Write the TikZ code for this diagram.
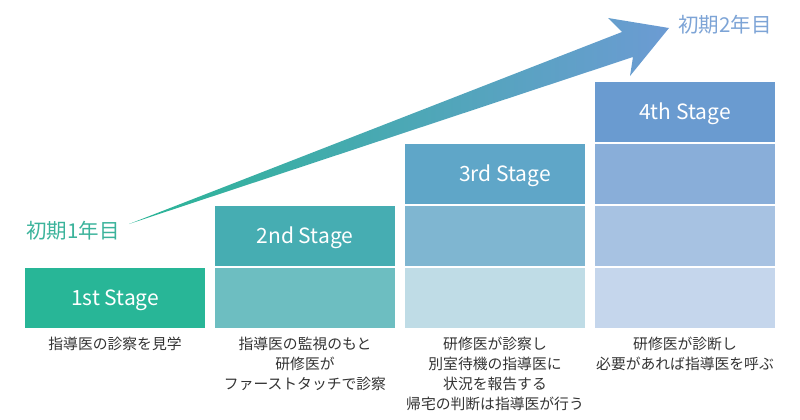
\documentclass[tikz,border=0pt]{standalone}
\usepackage{fontspec}
\setmainfont{Noto Sans CJK JP}
\definecolor{cOne}{HTML}{28B697}
\definecolor{cTwoA}{HTML}{46ADB2}
\definecolor{cTwoB}{HTML}{6DBEC1}
\definecolor{cThrA}{HTML}{5FA6C8}
\definecolor{cThrB}{HTML}{7FB6D1}
\definecolor{cThrC}{HTML}{BFDCE6}
\definecolor{cFouA}{HTML}{6A9BD0}
\definecolor{cFouB}{HTML}{89AED9}
\definecolor{cFouC}{HTML}{A7C2E2}
\definecolor{cFouD}{HTML}{C5D6EC}
\definecolor{arrL}{HTML}{2AB596}
\definecolor{arrR}{HTML}{6C9BD3}
\definecolor{capcol}{HTML}{333333}
\definecolor{yrOne}{HTML}{3BB39B}
\definecolor{yrTwo}{HTML}{7DA4D6}
\tikzset{
  cell/.style={fill=#1, draw=none, anchor=north west, minimum width=180pt, minimum height=60pt, inner sep=0pt, outer sep=0pt},
  stagetxt/.style={text=white, font=\fontsize{21}{24}\selectfont, inner sep=0pt, yshift=-2pt},
  captxt/.style={text=capcol, font=\fontsize{14.8}{20}\selectfont, align=center, anchor=north, inner sep=0pt},
  yrtxt/.style={font=\fontsize{20.5}{24}\selectfont, inner sep=0pt}
}
\begin{document}
\begin{tikzpicture}[x=1pt,y=-1pt]
\useasboundingbox (0,0) rectangle (800,420);
% column 1
\node[cell=cOne] (s1a) at (25,268) {};
% column 2
\node[cell=cTwoA] (s2a) at (215,206) {};
\node[cell=cTwoB] (s2b) at (215,268) {};
% column 3
\node[cell=cThrA] (s3a) at (405,144) {};
\node[cell=cThrB] (s3b) at (405,206) {};
\node[cell=cThrC] (s3c) at (405,268) {};
% column 4
\node[cell=cFouA] (s4a) at (595,82) {};
\node[cell=cFouB] (s4b) at (595,144) {};
\node[cell=cFouC] (s4c) at (595,206) {};
\node[cell=cFouD] (s4d) at (595,268) {};
% stage labels
\node[stagetxt] (l1) at (s1a.center) {1st Stage};
\node[stagetxt] (l2) at (s2a.center) {2nd Stage};
\node[stagetxt] (l3) at ([xshift=10pt]s3a.center) {3rd Stage};
\node[stagetxt] (l4) at (s4a.center) {4th Stage};
% captions
\node[captxt] (c1) at (115,337) {指導医の診察を見学};
\node[captxt] (c2) at (305,337) {指導医の監視のもと\\研修医が\\ファーストタッチで診察};
\node[captxt] (c3) at (495,337) {研修医が診察し\\別室待機の指導医に\\状況を報告する\\帰宅の判断は指導医が行う};
\node[captxt] (c4) at (685,337) {研修医が診断し\\必要があれば指導医を呼ぶ};
% year labels
\node[yrtxt, text=yrOne] (y1) at (73,231) {初期1年目};
\node[yrtxt, text=yrTwo] (y2) at (725,25) {初期2年目};
% arrow
\coordinate (tail) at (129,224);
\coordinate (tip) at (669,28);
\shade[left color=arrL, right color=arrR]
  (tail) -- (622,32) -- (608,18) -- (tip) -- (630,76) -- (633,57) -- cycle;
\end{tikzpicture}
\end{document}
